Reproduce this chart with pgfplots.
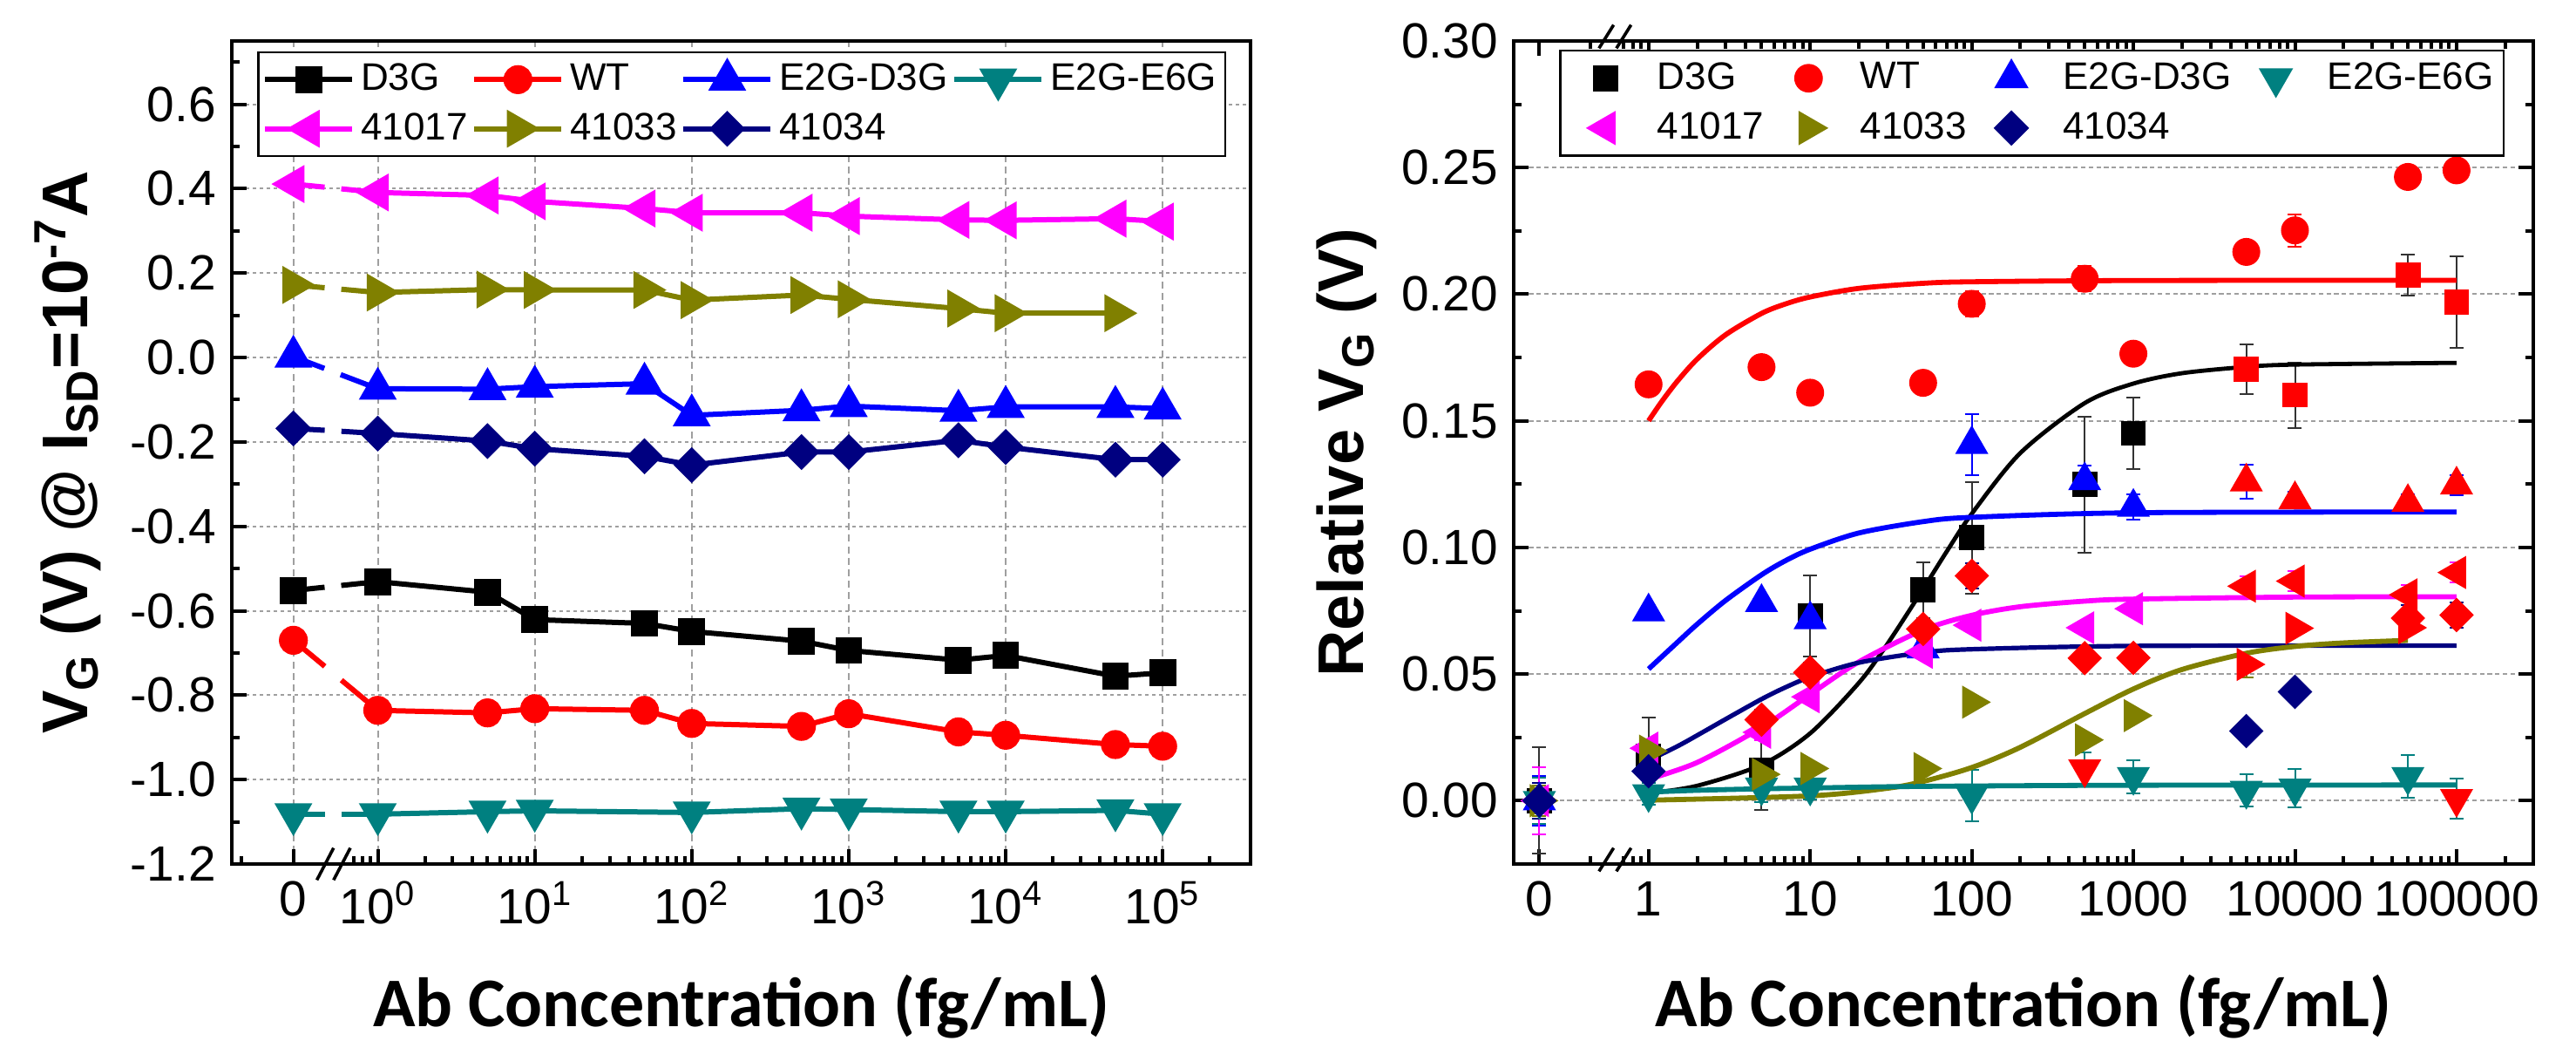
\documentclass[border=0pt]{standalone}
\usepackage{fontspec}
\setmainfont{Liberation Sans}
\newfontfamily\calibri{Carlito}
\usepackage{pgfplots}
\pgfplotsset{compat=1.18}
\definecolor{cD}{HTML}{000000}
\definecolor{cW}{HTML}{FF0000}
\definecolor{cB}{HTML}{0000FF}
\definecolor{cT}{HTML}{008080}
\definecolor{cM}{HTML}{FF00FF}
\definecolor{cO}{HTML}{808000}
\definecolor{cN}{HTML}{000080}
\pgfplotsset{
  common/.style={
    scale only axis, clip=false,
    tick align=inside,
    major tick length=4.2pt, minor tick length=2.2pt,
    every tick/.style={black, line width=1pt},
    axis line style={line width=1.1pt},
    tick label style={font=\fontsize{14.2}{17}\selectfont},
    xticklabel style={yshift=-1.5pt},
    yticklabel style={xshift=-1pt},
    every axis x label/.style={at={(axis description cs:0.5,-0.198)}, anchor=base, font=\calibri\bfseries\fontsize{20}{24}\selectfont},
    legend columns=4,
    legend cell align=left,
  },
  eb/.style={error bars/.cd, y dir=both, y explicit,
    error bar style={line width=0.5pt, color=#1},
    error mark options={rotate=90, mark size=2pt, line width=0.5pt, color=#1}},
  scat/.style={only marks},
  rD/.style={scat, mark=square*, mark size=3.4pt},
  rW/.style={scat, mark=*, mark size=3.8pt},
  rB/.style={scat, mark=triangle*, mark size=5.1pt},
  rT/.style={scat, mark=triangle*, mark size=5.1pt, mark options={rotate=180}},
  rM/.style={scat, mark=triangle*, mark size=5.1pt, mark options={rotate=90}},
  rO/.style={scat, mark=triangle*, mark size=5.1pt, mark options={rotate=-90}},
  rN/.style={scat, mark=square*, mark size=3.3pt, mark options={rotate=45}},
  fit/.style={forget plot, no marks, smooth, line width=1.45pt},
  lsq/.style={mark=square*, mark size=3.1pt},
  lci/.style={mark=*, mark size=3.4pt},
  ltu/.style={mark=triangle*, mark size=4.8pt},
  ltd/.style={mark=triangle*, mark size=4.8pt, mark options={solid,rotate=180}},
  ltl/.style={mark=triangle*, mark size=4.8pt, mark options={solid,rotate=90}},
  ltr/.style={mark=triangle*, mark size=4.8pt, mark options={solid,rotate=-90}},
  ldi/.style={mark=square*, mark size=2.9pt, mark options={solid,rotate=45}},
  lline/.style={line width=1.5pt},
}
\begin{document}
\begin{tikzpicture}
\useasboundingbox (0,0) rectangle (739pt,298.5pt);
% ---------------- left panel ----------------
\begin{axis}[common,
  at={(66.5pt,50.75pt)}, anchor=south west,
  width=292.25pt, height=236pt,
  xmode=log, xmin=0.1175, xmax=363000,
  ymin=-1.2, ymax=0.75,
  tick pos=left,
  xtick={0.29,1,10,100,1000,10000,100000},
  xticklabels={0,10\textsuperscript{0},10\textsuperscript{1},10\textsuperscript{2},10\textsuperscript{3},10\textsuperscript{4},10\textsuperscript{5}},
  minor xtick={0.136,0.7,0.8,0.9,2,3,4,5,6,7,8,9,20,30,40,50,60,70,80,90,200,300,400,500,600,700,800,900,2000,3000,4000,5000,6000,7000,8000,9000,20000,30000,40000,50000,60000,70000,80000,90000,200000},
  ytick={-1.2,-1.0,-0.8,-0.6,-0.4,-0.2,0,0.2,0.4,0.6},
  yticklabels={-1.2,-1.0,-0.8,-0.6,-0.4,-0.2,0.0,0.2,0.4,0.6},
  minor ytick={-1.1,-0.9,-0.7,-0.5,-0.3,-0.1,0.1,0.3,0.5,0.7},
  xmajorgrids, ymajorgrids,
  x grid style={gray!75, line width=0.5pt, dash pattern=on 2pt off 1.3pt},
  y grid style={gray!75, line width=0.5pt, dash pattern=on 1pt off 1pt},
  xlabel={Ab Concentration (fg/mL)},
  ylabel={V\textsubscript{G} (V) @ I\textsubscript{SD}=10\textsuperscript{-7}A},
  every axis y label/.style={at={(axis description cs:-0.161,0.5)}, rotate=90, anchor=center, font=\bfseries\fontsize{18.5}{22}\selectfont},
  legend image code/.code={\draw[mark repeat=2,mark phase=2,#1] plot coordinates {(0pt,0pt)(12.5pt,0pt)(25pt,0pt)}; \path[draw=none,fill=none] (26.3pt,0pt);},
  legend style={at={(1,1)}, anchor=north east, xshift=-7pt, yshift=-3pt,
    font=\fontsize{11}{13}\selectfont, draw=black, line width=0.6pt,
    inner xsep=1.2pt, inner ysep=2pt, row sep=2.5pt,
    nodes={inner sep=1.2pt, text depth=0.15em},
    /tikz/every even column/.append style={column sep=0pt}},
]
\addplot[cD, lline, lsq] coordinates {(1,-0.531)(5,-0.556)(10,-0.621)(50,-0.630)(100,-0.649)(500,-0.672)(1000,-0.694)(5000,-0.717)(10000,-0.706)(50000,-0.755)(100000,-0.747)};
\addlegendentry{D3G}
\addplot[cW, lline, lci] coordinates {(1,-0.836)(5,-0.842)(10,-0.832)(50,-0.836)(100,-0.867)(500,-0.874)(1000,-0.844)(5000,-0.887)(10000,-0.895)(50000,-0.917)(100000,-0.921)};
\addlegendentry{WT}
\addplot[cB, lline, ltu] coordinates {(1,-0.074)(5,-0.075)(10,-0.069)(50,-0.062)(100,-0.137)(500,-0.125)(1000,-0.115)(5000,-0.126)(10000,-0.117)(50000,-0.117)(100000,-0.121)};
\addlegendentry{E2G-D3G}
\addplot[cT, lline, ltd] coordinates {(1,-1.082)(5,-1.076)(10,-1.074)(100,-1.078)(500,-1.069)(1000,-1.071)(5000,-1.076)(10000,-1.076)(50000,-1.073)(100000,-1.082)};
\addlegendentry{E2G-E6G}
\addplot[cM, lline, ltl] coordinates {(1,0.391)(5,0.384)(10,0.370)(50,0.353)(100,0.343)(500,0.343)(1000,0.335)(5000,0.326)(10000,0.325)(50000,0.329)(100000,0.322)};
\addlegendentry{41017}
\addplot[cO, lline, ltr] coordinates {(1,0.154)(5,0.161)(10,0.160)(50,0.160)(100,0.136)(500,0.148)(1000,0.138)(5000,0.116)(10000,0.105)(50000,0.105)};
\addlegendentry{41033}
\addplot[cN, lline, ldi] coordinates {(1,-0.180)(5,-0.198)(10,-0.216)(50,-0.234)(100,-0.255)(500,-0.224)(1000,-0.224)(5000,-0.196)(10000,-0.212)(50000,-0.242)(100000,-0.242)};
\addlegendentry{41034}
% segments across the axis break
\addplot[forget plot, cD, lline, lsq, mark indices={1}, mark options={solid}, dash pattern=on 9pt off 4.8pt on 40pt] coordinates {(0.29,-0.552)(1,-0.531)};
\addplot[forget plot, cW, lline, lci, mark indices={1}, mark options={solid}, dash pattern=on 11.7pt off 6.2pt on 40pt] coordinates {(0.29,-0.670)(1,-0.836)};
\addplot[forget plot, cB, lline, ltu, mark indices={1}, mark options={solid}, dash pattern=on 9.5pt off 5pt on 40pt] coordinates {(0.29,0.002)(1,-0.074)};
\addplot[forget plot, cT, lline, ltd, mark indices={1}, dash pattern=on 9pt off 4.8pt on 40pt] coordinates {(0.29,-1.082)(1,-1.082)};
\addplot[forget plot, cM, lline, ltl, mark indices={1}, dash pattern=on 9pt off 4.8pt on 40pt] coordinates {(0.29,0.411)(1,0.391)};
\addplot[forget plot, cO, lline, ltr, mark indices={1}, dash pattern=on 9pt off 4.8pt on 40pt] coordinates {(0.29,0.172)(1,0.154)};
\addplot[forget plot, cN, lline, ldi, mark indices={1}, dash pattern=on 9pt off 4.8pt on 40pt] coordinates {(0.29,-0.168)(1,-0.180)};
% axis break marks
\draw[line width=0.9pt] ([xshift=-4.8pt,yshift=-4.6pt]axis cs:0.523,-1.2) -- ([yshift=4.6pt]axis cs:0.523,-1.2);
\draw[line width=0.9pt] ([yshift=-4.6pt]axis cs:0.523,-1.2) -- ([xshift=4.8pt,yshift=4.6pt]axis cs:0.523,-1.2);
\end{axis}
% ---------------- right panel ----------------
\begin{axis}[common,
  at={(434.2pt,50.75pt)}, anchor=south west,
  width=292.5pt, height=236pt,
  xmode=log, xmin=0.146, xmax=297850,
  ymin=-0.025, ymax=0.30,
  tick pos=both,
  xtick={0.211,1,10,100,1000,10000,100000},
  xticklabels={0,1,10,100,1000,10000,100000},
  minor xtick={0.437,0.7,0.8,0.9,2,3,4,5,6,7,8,9,20,30,40,50,60,70,80,90,200,300,400,500,600,700,800,900,2000,3000,4000,5000,6000,7000,8000,9000,20000,30000,40000,50000,60000,70000,80000,90000,200000},
  ytick={0,0.05,0.10,0.15,0.20,0.25,0.30},
  yticklabels={0.00,0.05,0.10,0.15,0.20,0.25,0.30},
  minor ytick={0.025,0.075,0.125,0.175,0.225,0.275},
  ymajorgrids,
  y grid style={gray!75, line width=0.5pt, dash pattern=on 1.3pt off 0.9pt},
  xlabel={Ab Concentration (fg/mL)},
  ylabel={Relative V\textsubscript{G} (V)},
  every axis y label/.style={at={(axis description cs:-0.164,0.5)}, rotate=90, anchor=center, font=\bfseries\fontsize{18.5}{22}\selectfont},
  legend image code/.code={\path[draw=none,fill=none] (-11.5pt,0pt) (13.5pt,0pt); \draw[#1] plot coordinates {(0pt,0pt)};},
  legend style={at={(1,1)}, anchor=north east, xshift=-8.2pt, yshift=-2.5pt,
    font=\fontsize{11}{13}\selectfont, draw=black, line width=0.6pt,
    inner xsep=1.5pt, inner ysep=2pt, row sep=2.5pt,
    nodes={inner sep=1.3pt, text depth=0.15em},
    /tikz/every even column/.append style={column sep=0pt}},
]
% D3G
\addplot[cD, rD, eb=black!80] coordinates {(0.211,0) +- (0,0.021) (1,0.0175) +- (0,0.0155) (5,0.012) +- (0,0.0155) (10,0.0729) +- (0,0.016) (50,0.0832) +- (0,0.011) (100,0.1038) +- (0,0.022) (500,0.1248) +- (0,0.0268) (1000,0.1451) +- (0,0.0141)};
\addlegendentry{D3G}
\addplot[forget plot, cW, rD, eb=black!80] coordinates {(5000,0.1703) +- (0,0.0099) (10000,0.1602) +- (0,0.0129) (50000,0.2075) +- (0,0.008) (100000,0.1968) +- (0,0.018)};
% WT
\addplot[cW, rW, eb=cW] coordinates {(0.211,0) +- (0,0.005) (1,0.1644) +- (0,0) (5,0.1712) +- (0,0) (10,0.1611) +- (0,0) (50,0.1650) +- (0,0) (100,0.1962) +- (0,0.005) (500,0.2061) +- (0,0.005) (1000,0.1765) +- (0,0) (5000,0.2167) +- (0,0) (10000,0.2252) +- (0,0.0064) (50000,0.2463) +- (0,0) (100000,0.2489) +- (0,0)};
\addlegendentry{WT}
% E2G-D3G
\addplot[cB, rB, eb=cB] coordinates {(0.211,0) +- (0,0.0098) (1,0.0746) +- (0,0) (5,0.0783) +- (0,0.002) (10,0.0715) +- (0,0) (50,0.060) +- (0,0.003) (100,0.1407) +- (0,0.012) (500,0.1264) +- (0,0.006) (1000,0.1159) +- (0,0.005)};
\addlegendentry{E2G-D3G}
\addplot[forget plot, cW, rB, eb=cB] coordinates {(5000,0.1259) +- (0,0.0068) (10000,0.1189) +- (0,0.003) (50000,0.1178) +- (0,0.003) (100000,0.1247) +- (0,0.004)};
% E2G-E6G
\addplot[cT, rT, eb=cT] coordinates {(0.211,0) +- (0,0.009) (1,0.0027) +- (0,0.0044) (5,0.0053) +- (0,0.006) (10,0.0053) +- (0,0.005) (100,0.002) +- (0,0.0103) (1000,0.0095) +- (0,0.0066) (5000,0.004) +- (0,0.0063) (10000,0.0049) +- (0,0.0075) (50000,0.0095) +- (0,0.0085)};
\addlegendentry{E2G-E6G}
\addplot[forget plot, cW, rT, eb=cT] coordinates {(500,0.0125) +- (0,0.0065) (100000,0.0008) +- (0,0.008)};
% 41017
\addplot[cM, rM, eb=cM] coordinates {(0.211,0) +- (0,0.0133) (1,0.0207) +- (0,0.002) (5,0.027) +- (0,0.003) (10,0.041) +- (0,0.002) (50,0.0586) +- (0,0.002) (100,0.0693) +- (0,0.002) (500,0.0683) +- (0,0) (1000,0.0758) +- (0,0)};
\addlegendentry{41017}
\addplot[forget plot, cW, rM, eb=cM] coordinates {(5000,0.0847) +- (0,0.004) (10000,0.0867) +- (0,0.004) (50000,0.0813) +- (0,0.004) (100000,0.0901) +- (0,0.004)};
% 41033
\addplot[cO, rO, eb=cO] coordinates {(0.211,0) +- (0,0.006) (1,0.0196) +- (0,0.002) (5,0.0104) +- (0,0) (10,0.0127) +- (0,0) (50,0.0127) +- (0,0) (100,0.0389) +- (0,0) (500,0.024) +- (0,0) (1000,0.0336) +- (0,0)};
\addlegendentry{41033}
\addplot[forget plot, cW, rO, eb=cO] coordinates {(5000,0.0538) +- (0,0.005) (10000,0.0681) +- (0,0.002) (50000,0.0683) +- (0,0.002)};
% 41034
\addplot[forget plot, cW, rN, eb=cN] coordinates {(5,0.032) +- (0,0.004) (10,0.0506) +- (0,0.004) (50,0.0678) +- (0,0.004) (100,0.0888) +- (0,0.005) (500,0.0563) +- (0,0.003) (1000,0.0564) +- (0,0.003) (50000,0.0721) +- (0,0.005) (100000,0.0733) +- (0,0.005)};
\addplot[cN, rN, eb=cN] coordinates {(0.211,0) +- (0,0.007) (1,0.0116) +- (0,0) (5000,0.0275) +- (0,0) (10000,0.043) +- (0,0)};
\addlegendentry{41034}
% fitted curves
\addplot[fit, cW] coordinates {(1,0.1500)(1.2,0.1574)(1.5,0.1655)(2,0.1744)(3,0.1840)(5,0.1924)(7,0.1961)(10,0.1989)(20,0.2023)(50,0.2043)(100,0.2049)(1000,0.2054)(100000,0.2055)};
\addplot[fit, cD, line width=1.2pt] coordinates {(1,0.0029)(2,0.0059)(5,0.0142)(10,0.0266)(20,0.0465)(30,0.0618)(50,0.0836)(70,0.0984)(100,0.1133)(200,0.1373)(500,0.1570)(1000,0.1647)(2000,0.1688)(5000,0.1713)(10000,0.1722)(100000,0.1729)};
\addplot[fit, cB] coordinates {(1,0.0520)(1.5,0.0624)(2,0.0697)(3,0.0791)(5,0.0892)(7,0.0947)(10,0.0993)(20,0.1057)(50,0.1102)(100,0.1119)(1000,0.1137)(100000,0.1140)};
\addplot[fit, cM] coordinates {(1,0.0085)(2,0.0151)(5,0.0289)(10,0.0420)(20,0.0548)(50,0.0674)(100,0.0732)(200,0.0766)(500,0.0788)(1000,0.0796)(10000,0.0804)(100000,0.0805)};
\addplot[fit, cN, line width=1.3pt] coordinates {(1,0.0159)(1.5,0.0214)(2,0.0258)(3,0.0322)(5,0.0401)(7,0.0447)(10,0.0488)(20,0.0545)(50,0.0585)(100,0.0598)(1000,0.0611)(100000,0.0612)};
\addplot[fit, cO] coordinates {(1,0.0002)(10,0.0019)(30,0.0049)(50,0.0076)(100,0.0131)(200,0.0211)(500,0.0344)(1000,0.0441)(2000,0.0518)(5000,0.0582)(10000,0.0609)(20000,0.0623)(50000,0.0633)};
\addplot[fit, cT] coordinates {(1,0.0034)(2,0.0041)(5,0.0047)(10,0.0050)(30,0.0055)(100,0.0058)(1000,0.0061)(100000,0.0062)};
% axis break marks
\draw[line width=0.9pt] ([xshift=-4.6pt,yshift=-2.1pt]axis cs:0.62,-0.025) -- ([xshift=-0.4pt,yshift=4.6pt]axis cs:0.62,-0.025);
\draw[line width=0.9pt] ([xshift=0.4pt,yshift=-2.1pt]axis cs:0.62,-0.025) -- ([xshift=4.6pt,yshift=4.6pt]axis cs:0.62,-0.025);
\draw[line width=0.9pt] ([xshift=-4.6pt,yshift=-2.1pt]axis cs:0.62,0.30) -- ([xshift=-0.4pt,yshift=4.6pt]axis cs:0.62,0.30);
\draw[line width=0.9pt] ([xshift=0.4pt,yshift=-2.1pt]axis cs:0.62,0.30) -- ([xshift=4.6pt,yshift=4.6pt]axis cs:0.62,0.30);
\end{axis}
\end{tikzpicture}
\end{document}
